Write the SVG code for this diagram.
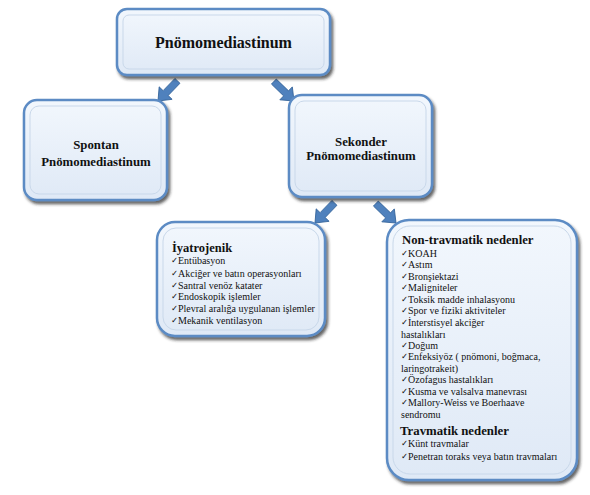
<svg xmlns="http://www.w3.org/2000/svg" width="590" height="495" viewBox="0 0 590 495" font-family="'Liberation Serif', 'Times New Roman', serif">
<defs>
<linearGradient id="fillg" x1="0" y1="0" x2="0" y2="1">
<stop offset="0" stop-color="#F2F7FD"/>
<stop offset="1" stop-color="#DFE9F6"/>
</linearGradient>
<filter id="sh" x="-10%" y="-10%" width="125%" height="125%">
<feDropShadow dx="2" dy="3" stdDeviation="1.8" flood-color="#222" flood-opacity="0.7"/>
</filter>
<path id="arr" d="M-28,-3.5 L-11,-3.5 L-11,-9 L0,0 L-11,9 L-11,3.5 L-28,3.5 Z"/>
</defs>
<style>
.box{fill:url(#fillg);stroke:#5B8BC4;stroke-width:2.5;filter:url(#sh)}
.inner{fill:none;stroke:#C9D8EA;stroke-width:1}
.a{fill:#4F81BD;stroke:#2F5F97;stroke-width:0.8}
</style>
<rect width="590" height="495" fill="#fff"/>

<g id="connectors">
<use href="#arr" class="a" transform="translate(158,101) rotate(134)"/>
<use href="#arr" class="a" transform="translate(294,101) rotate(44)"/>
<use href="#arr" class="a" transform="translate(315,223) rotate(134)"/>
<use href="#arr" class="a" transform="translate(396,223) rotate(44)"/>
</g>

<g id="n-root">
<rect class="box" x="117" y="9" width="213" height="66" rx="10"/>
<rect class="inner" x="123" y="15" width="201" height="54" rx="6"/>
<text font-family="'Liberation Serif', serif" font-weight="bold" fill="#111" x="223.5" y="48" font-size="16" text-anchor="middle">Pnömomediastinum</text>
</g>

<g id="n-spontan" font-family="'Liberation Serif', serif" font-weight="bold" fill="#111" font-size="12.8">
<rect class="box" x="24" y="100" width="143" height="100" rx="13"/>
<rect class="inner" x="30" y="106" width="131" height="88" rx="9"/>
<text x="96" y="149" text-anchor="middle">Spontan</text>
<text x="96" y="166" text-anchor="middle">Pnömomediastinum</text>
</g>

<g id="n-sekonder" font-family="'Liberation Serif', serif" font-weight="bold" fill="#111" font-size="12.8">
<rect class="box" x="289" y="95" width="143" height="102" rx="13"/>
<rect class="inner" x="295" y="101" width="131" height="90" rx="9"/>
<text x="361" y="146" text-anchor="middle">Sekonder</text>
<text x="361" y="160" text-anchor="middle">Pnömomediastinum</text>
</g>

<g id="n-iyatrojenik" fill="#111">
<rect class="box" x="157" y="222" width="168" height="114" rx="18"/>
<rect class="inner" x="163" y="228" width="156" height="102" rx="13"/>
<text font-family="'Liberation Serif', serif" font-weight="bold" x="172" y="252" font-size="12.5">İyatrojenik</text>
<g font-family="'DejaVu Sans', sans-serif" font-size="8.5">
<text x="171" y="263">✓</text><text x="171" y="276">✓</text><text x="171" y="288">✓</text>
<text x="171" y="299">✓</text><text x="171" y="311">✓</text><text x="171" y="323">✓</text>
</g>
<g font-family="'Liberation Serif', serif" font-size="10">
<text x="178" y="264">Entübasyon</text>
<text x="178" y="277">Akciğer ve batın operasyonları</text>
<text x="178" y="289">Santral venöz katater</text>
<text x="178" y="300">Endoskopik işlemler</text>
<text x="178" y="312">Plevral aralığa uygulanan işlemler</text>
<text x="178" y="324">Mekanik ventilasyon</text>
</g>
</g>

<g id="n-nedenler" fill="#111">
<rect class="box" x="387" y="220" width="190" height="260" rx="22"/>
<rect class="inner" x="393" y="226" width="178" height="248" rx="17"/>
<text font-family="'Liberation Serif', serif" font-weight="bold" x="402" y="244" font-size="12.7">Non-travmatik nedenler</text>
<g font-family="'DejaVu Sans', sans-serif" font-size="8.5">
<text x="401" y="256">✓</text><text x="401" y="267">✓</text><text x="401" y="279">✓</text>
<text x="401" y="290">✓</text><text x="401" y="302">✓</text><text x="401" y="313">✓</text>
<text x="401" y="325">✓</text><text x="401" y="348">✓</text><text x="401" y="359">✓</text>
<text x="401" y="382">✓</text><text x="401" y="394">✓</text><text x="401" y="405">✓</text>
<text x="401" y="446">✓</text><text x="401" y="459">✓</text>
</g>
<g font-family="'Liberation Serif', serif" font-size="10">
<text x="408" y="257">KOAH</text>
<text x="408" y="268">Astım</text>
<text x="408" y="280">Bronşiektazi</text>
<text x="408" y="291">Maligniteler</text>
<text x="408" y="303">Toksik madde inhalasyonu</text>
<text x="408" y="314">Spor ve fiziki aktiviteler</text>
<text x="408" y="326">İnterstisyel akciğer</text>
<text x="401" y="338">hastalıkları</text>
<text x="408" y="349">Doğum</text>
<text x="408" y="360">Enfeksiyöz ( pnömoni, boğmaca,</text>
<text x="401" y="372">laringotrakeit)</text>
<text x="408" y="383">Özofagus hastalıkları</text>
<text x="408" y="395">Kusma ve valsalva manevrası</text>
<text x="408" y="406">Mallory-Weiss ve Boerhaave</text>
<text x="401" y="418">sendromu</text>
<text x="408" y="447">Künt travmalar</text>
<text x="408" y="460">Penetran toraks veya batın travmaları</text>
</g>
<text font-family="'Liberation Serif', serif" font-weight="bold" x="400" y="435" font-size="12.8">Travmatik nedenler</text>
</g>
</svg>
